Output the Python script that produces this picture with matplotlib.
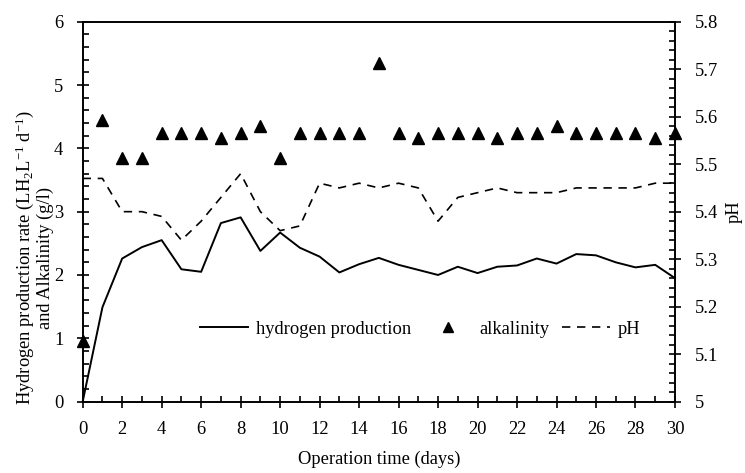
import matplotlib
matplotlib.use('Agg')
import matplotlib.pyplot as plt
from matplotlib.ticker import MultipleLocator
from matplotlib.lines import Line2D

days = list(range(31))

hydrogen = [0.0, 1.49, 2.26, 2.44, 2.55, 2.09, 2.05, 2.82, 2.91, 2.38,
            2.67, 2.43, 2.29, 2.04, 2.17, 2.27, 2.16, 2.08, 2.00, 2.13,
            2.03, 2.13, 2.15, 2.26, 2.18, 2.33, 2.31, 2.20, 2.12, 2.16, 1.95]

alkalinity = [0.95, 4.45, 3.85, 3.85, 4.25, 4.25, 4.25, 4.16, 4.25, 4.35,
              3.85, 4.25, 4.25, 4.25, 4.25, 5.35, 4.25, 4.16, 4.25, 4.25,
              4.25, 4.16, 4.25, 4.25, 4.36, 4.25, 4.25, 4.25, 4.25, 4.16, 4.25]

ph = [5.47, 5.47, 5.40, 5.40, 5.39, 5.34, 5.38, 5.43, 5.48, 5.40,
      5.36, 5.37, 5.46, 5.45, 5.46, 5.45, 5.46, 5.45, 5.38, 5.43,
      5.44, 5.45, 5.44, 5.44, 5.44, 5.45, 5.45, 5.45, 5.45, 5.46, 5.46]

plt.rcParams['font.family'] = ['Liberation Serif', 'DejaVu Serif']
plt.rcParams['mathtext.fontset'] = 'custom'
plt.rcParams['mathtext.rm'] = 'Liberation Serif'
plt.rcParams['mathtext.it'] = 'Liberation Serif:italic'
fs = 13.3

fig = plt.figure(figsize=(7.45, 4.73), dpi=100)
ax = fig.add_axes([0.111, 0.151, 0.795, 0.803])
ax2 = ax.twinx()

ax.plot(days, hydrogen, color='black', linewidth=1.4, clip_on=False, zorder=3)
ax.plot(days, alkalinity, linestyle='none', marker='^', color='black',
        markersize=8, clip_on=False, zorder=4)
ax2.plot(days, ph, color='black', linewidth=1.2, linestyle=(0, (5, 4)))

ax.set_xlim(0, 30)
ax.set_ylim(0, 6)
ax2.set_ylim(5, 5.8)

ax.xaxis.set_major_locator(MultipleLocator(2))
ax.xaxis.set_minor_locator(MultipleLocator(1))
ax.yaxis.set_major_locator(MultipleLocator(1))
ax.yaxis.set_minor_locator(MultipleLocator(0.2))
ax2.yaxis.set_major_locator(MultipleLocator(0.1))
ax2.yaxis.set_minor_locator(MultipleLocator(0.02))
ax2.yaxis.set_major_formatter(plt.FuncFormatter(lambda v, p: f'{v:g}'))

ax.tick_params(axis='x', which='major', direction='inout', length=8, width=1.2,
               labelsize=fs, pad=10)
ax.tick_params(axis='x', which='minor', direction='in', length=4, width=1.2)
ax.tick_params(axis='y', which='major', direction='inout', length=8, width=1.2,
               labelsize=fs, pad=10)
ax.tick_params(axis='y', which='minor', direction='in', length=4, width=1.2)
ax2.tick_params(axis='y', which='major', direction='inout', length=8, width=1.2,
                labelsize=fs, pad=10)
ax2.tick_params(axis='y', which='minor', direction='in', length=4, width=1.2)

for a in (ax, ax2):
    for s in a.spines.values():
        s.set_linewidth(1.2)

ax.set_xlabel('Operation time (days)', fontsize=fs, labelpad=9)
ax.set_ylabel('Hydrogen production rate (LH$_2$L$^{-1}$ d$^{-1}$)\nand Alkalinity (g/l)',
              fontsize=fs, linespacing=1.05)
ax.yaxis.set_label_coords(-0.048, 0.378)
ax2.set_ylabel('pH', fontsize=fs, labelpad=6)

handles = [
    Line2D([], [], color='black', linewidth=1.4),
    Line2D([], [], color='black', marker='^', linestyle='none', markersize=7),
    Line2D([], [], color='black', linewidth=1.2, linestyle=(0, (5, 4))),
]
labels = ['hydrogen production', 'alkalinity', 'pH']
ax.legend(handles, labels, loc='center', bbox_to_anchor=(0.570, 0.191), ncol=3,
          frameon=False, fontsize=fs, handlelength=2.6, columnspacing=0.7,
          handletextpad=0.4)

fig.savefig('out.png', dpi=100)
